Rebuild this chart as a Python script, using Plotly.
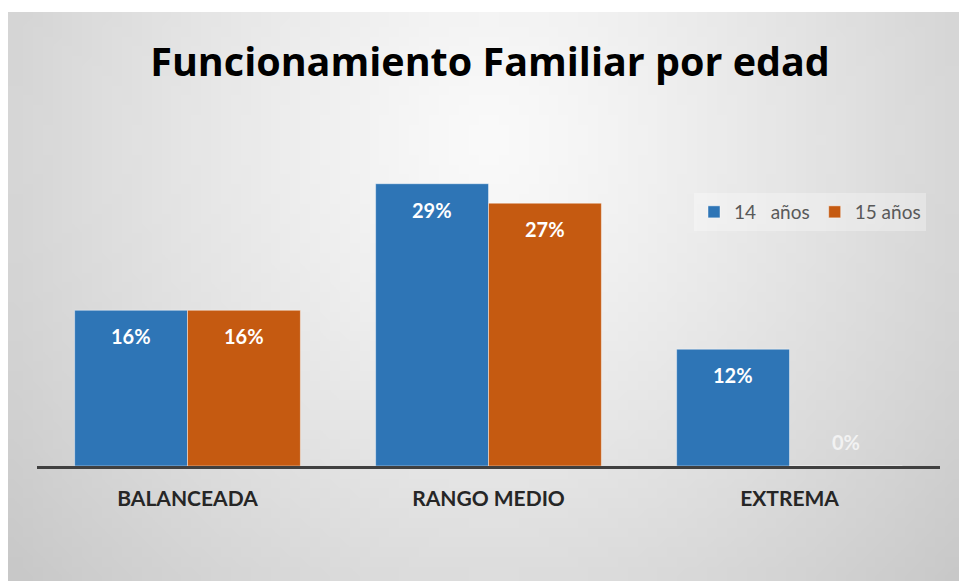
import plotly.graph_objects as go
import zlib, struct, base64, math

categories = ["BALANCEADA", "RANGO MEDIO", "EXTREMA"]
serie_14 = [16, 29, 12]
serie_15 = [16, 27, 0]
series_names = ["14\u00a0\u00a0 años", "15 años"]
colors = ["#2E75B6", "#C55A11"]

W_PX, H_PX = 959, 581
L, R, T, B = 37, 19, 174, 115
plot_w = W_PX - L - R
plot_h = H_PX - T - B
BARGAP = 0.25

# radial gray gradient background as a small PNG
def make_png():
    w, h = 96, 58
    x0, y0 = 8, 12
    raw = bytearray()
    for j in range(h):
        raw.append(0)
        py = y0 + (j + 0.5) / h * (H_PX - y0)
        for i in range(w):
            px = x0 + (i + 0.5) / w * (W_PX - x0)
            d = math.sqrt(((px - 490) / 480) ** 2 + ((py - 140) / 520) ** 2)
            v = int(max(185, min(252, 250 - 36 * d ** 1.25)))
            raw += bytes((v, v, v))
    def chunk(tag, data):
        return struct.pack(">I", len(data)) + tag + data + struct.pack(">I", zlib.crc32(tag + data) & 0xffffffff)
    png = b"\x89PNG\r\n\x1a\n" + chunk(b"IHDR", struct.pack(">IIBBBBB", w, h, 8, 2, 0, 0, 0)) \
        + chunk(b"IDAT", zlib.compress(bytes(raw))) + chunk(b"IEND", b"")
    return "data:image/png;base64," + base64.b64encode(png).decode()

fig = go.Figure()
for name, vals, col in zip(series_names, [serie_14, serie_15], colors):
    fig.add_trace(go.Bar(
        x=categories, y=vals, name=name,
        marker=dict(color=col, line=dict(color="rgba(255,255,255,0.55)", width=0.8)),
        hovertemplate="%{x}: %{y}%<extra>" + name + "</extra>",
    ))

# data labels placed relative to each bar
step_px = plot_w / len(categories)
bar_px = step_px * (1 - BARGAP) / 2
label_font = dict(family="Lato", size=20, color="#ffffff", weight="bold")
for s, vals in enumerate([serie_14, serie_15]):
    xshift = (s - 0.5) * bar_px
    for cat, v in zip(categories, vals):
        fig.add_annotation(
            x=cat, y=v, xref="x", yref="y", text=f"{v}%", showarrow=False,
            xshift=xshift, yshift=(-26 if v > 0 else 24),
            font=label_font if v > 0 else dict(label_font, color="#f2f2f2"),
        )

px2x = lambda p: (p - L) / plot_w
py2y = lambda p: (H_PX - B - p) / plot_h

fig.add_layout_image(dict(
    source=make_png(), xref="paper", yref="paper",
    x=px2x(8), y=py2y(12), sizex=px2x(W_PX) - px2x(8), sizey=py2y(12) - py2y(H_PX),
    xanchor="left", yanchor="top", sizing="stretch", layer="below",
))

fig.update_layout(
    width=W_PX, height=H_PX,
    margin=dict(l=L, r=R, t=T, b=B),
    paper_bgcolor="white", plot_bgcolor="rgba(0,0,0,0)",
    barmode="group", bargap=BARGAP, bargroupgap=0,
    title=dict(text="<b>Funcionamiento Familiar por edad</b>", x=0.511, xanchor="center",
               y=1 - 62 / H_PX, yanchor="middle",
               font=dict(family="Open Sans", size=39.5, color="#000000")),
    legend=dict(orientation="h", x=px2x(694), y=py2y(212), xanchor="left", yanchor="middle",
                bgcolor="rgba(255,255,255,0.3)", font=dict(family="Lato", size=19, color="#595959"),
                itemclick=False),
    xaxis=dict(showline=True, linecolor="#404040", linewidth=3, showgrid=False,
               ticks="outside", ticklen=12, tickcolor="rgba(0,0,0,0)",
               tickfont=dict(family="Lato", size=21, color="#262626", weight="bold")),
    yaxis=dict(visible=False, range=[0, 30], showgrid=False),
)

fig.write_html("out.html", config={"displayModeBar": False},
               post_script="document.body.style.margin='0';document.body.style.overflow='hidden';")
